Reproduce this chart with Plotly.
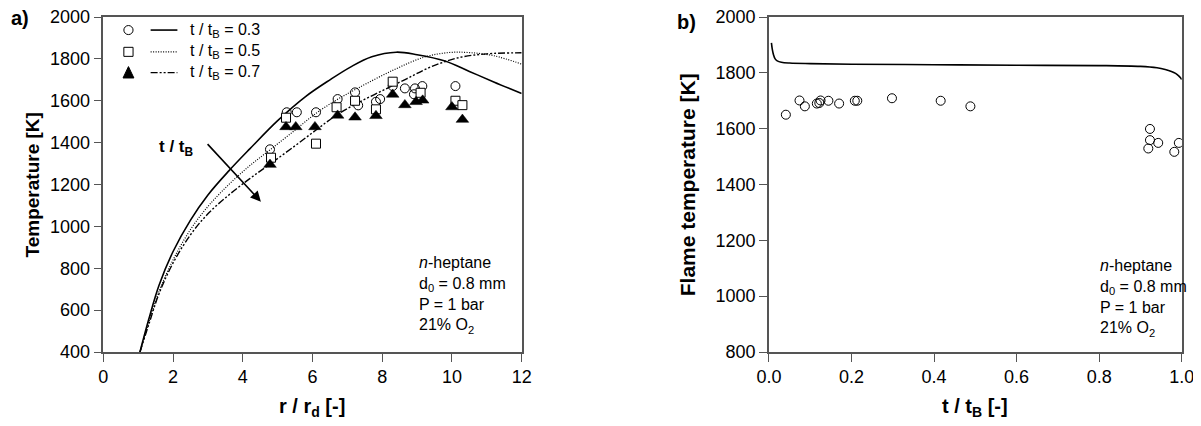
import plotly.graph_objects as go

# ---------------- data: panel a ----------------
r_03 = [1.05, 1.3, 1.6, 2.0, 2.5, 3.0, 3.6, 4.2, 5.0, 5.8, 6.5, 7.1, 7.7, 8.4, 9.0, 9.8, 10.5, 11.2, 12.0]
T_03 = [400, 555, 720, 880, 1030, 1150, 1265, 1370, 1505, 1620, 1700, 1762, 1810, 1832, 1820, 1790, 1740, 1690, 1635]
r_05 = [1.05, 1.3, 1.6, 2.0, 2.5, 3.0, 3.6, 4.2, 4.8, 5.5, 6.1, 6.7, 7.3, 8.3, 9.2, 9.9, 10.5, 11.2, 12.0]
T_05 = [400, 540, 690, 840, 985, 1095, 1200, 1290, 1368, 1460, 1540, 1605, 1660, 1745, 1808, 1830, 1830, 1815, 1775]
r_07 = [1.05, 1.3, 1.6, 2.0, 2.5, 3.0, 3.6, 4.2, 4.8, 5.5, 6.1, 6.7, 7.3, 8.0, 8.7, 9.4, 10.2, 11.0, 12.0]
T_07 = [400, 530, 680, 825, 960, 1060, 1150, 1228, 1300, 1385, 1460, 1533, 1590, 1648, 1705, 1762, 1806, 1824, 1829]

circ_r = [4.78, 5.26, 5.55, 6.1, 6.72, 7.22, 7.31, 7.82, 7.94, 8.3, 8.65, 8.94, 8.91, 9.15, 10.1]
circ_T = [1368, 1545, 1545, 1545, 1608, 1640, 1578, 1595, 1608, 1670, 1659, 1659, 1631, 1670, 1670]
sq_r = [4.81, 5.24, 6.1, 6.69, 7.22, 7.82, 8.3, 9.1, 10.1, 10.3]
sq_T = [1328, 1519, 1395, 1569, 1600, 1559, 1691, 1638, 1600, 1579]
tri_r = [4.78, 5.24, 5.52, 6.07, 6.72, 7.22, 7.82, 8.3, 8.65, 8.97, 9.16, 10.0, 10.3]
tri_T = [1295, 1475, 1475, 1475, 1530, 1521, 1528, 1630, 1580, 1595, 1602, 1570, 1510]

legend_labels = ["t / t<sub>B</sub> = 0.3", "t / t<sub>B</sub> = 0.5", "t / t<sub>B</sub> = 0.7"]

# ---------------- data: panel b ----------------
t_model = [0.006, 0.008, 0.011, 0.015, 0.02, 0.03, 0.05, 0.1, 0.2, 0.4, 0.6, 0.8, 0.9, 0.94, 0.96, 0.975, 0.985, 0.992, 0.997, 1.0]
T_model = [1907, 1885, 1865, 1850, 1843, 1838, 1835, 1833, 1831, 1829, 1827, 1826, 1823, 1818, 1812, 1805, 1798, 1790, 1782, 1776]
t_exp = [0.041, 0.074, 0.087, 0.116, 0.122, 0.125, 0.144, 0.17, 0.208, 0.214, 0.298, 0.416, 0.488,
         0.923, 0.923, 0.943, 0.919, 0.982, 0.993]
T_exp = [1650, 1701, 1680, 1690, 1692, 1701, 1700, 1690, 1700, 1700, 1709, 1700, 1680,
         1599, 1559, 1549, 1529, 1517, 1549]

FONT = "Liberation Sans, Arial, Helvetica, sans-serif"
AX = "#555555"
DASHDOT = "7px,2px,2px,2px,2px,2px"
DOTTED = "1px,1.5px"

fig = go.Figure()

# panel a lines
fig.add_trace(go.Scatter(x=r_03, y=T_03, mode="lines", line=dict(color="black", width=1.6, shape="spline"),
                         xaxis="x", yaxis="y", showlegend=False))
fig.add_trace(go.Scatter(x=r_05, y=T_05, mode="lines", line=dict(color="black", width=1.2, dash=DOTTED, shape="spline"),
                         xaxis="x", yaxis="y", showlegend=False))
fig.add_trace(go.Scatter(x=r_07, y=T_07, mode="lines",
                         line=dict(color="black", width=1.4, dash=DASHDOT, shape="spline"),
                         xaxis="x", yaxis="y", showlegend=False))
# panel a markers
fig.add_trace(go.Scatter(x=circ_r, y=circ_T, mode="markers",
                         marker=dict(symbol="circle-open", size=9, color="black", line=dict(width=1)),
                         xaxis="x", yaxis="y", showlegend=False))
fig.add_trace(go.Scatter(x=sq_r, y=sq_T, mode="markers",
                         marker=dict(symbol="square", size=9, color="white", line=dict(color="black", width=1)),
                         xaxis="x", yaxis="y", showlegend=False))
fig.add_trace(go.Scatter(x=tri_r, y=tri_T, mode="markers",
                         marker=dict(symbol="triangle-up", size=11, color="black", line=dict(color="black", width=0.5)),
                         xaxis="x", yaxis="y", showlegend=False))

# panel b
fig.add_trace(go.Scatter(x=t_model, y=T_model, mode="lines", line=dict(color="black", width=1.6, shape="spline"),
                         xaxis="x2", yaxis="y2", showlegend=False))
fig.add_trace(go.Scatter(x=t_exp, y=T_exp, mode="markers",
                         marker=dict(symbol="circle-open", size=9, color="black", line=dict(width=1)),
                         xaxis="x2", yaxis="y2", showlegend=False))

axis_common = dict(showgrid=False, zeroline=False, showline=True, linecolor=AX, linewidth=1.5,
                   mirror=True, ticks="outside", ticklen=8, tickwidth=1.2, tickcolor=AX, automargin=False,
                   ticklabeloverflow="allow",
                   tickfont=dict(family=FONT, size=18, color="black"))

fig.update_layout(
    width=1201, height=426,
    margin=dict(l=0, r=0, t=9, b=82, autoexpand=False),
    paper_bgcolor="white", plot_bgcolor="white",
    font=dict(family=FONT, color="black"),
    xaxis=dict(domain=[0.0794, 0.4277], range=[0, 12], tickvals=[0, 2, 4, 6, 8, 10, 12], anchor="y", **axis_common),
    yaxis=dict(domain=[0, 1], range=[400, 2000], tickvals=list(range(400, 2001, 200)), anchor="x", **axis_common),
    xaxis2=dict(domain=[0.6336, 0.9773], range=[0, 1], tickvals=[0, 0.2, 0.4, 0.6, 0.8, 1.0], tickformat=".1f",
                anchor="y2", **axis_common),
    yaxis2=dict(domain=[0, 1], range=[800, 2000], tickvals=list(range(800, 2001, 200)), anchor="x2", **axis_common),
)

C = dict(xanchor="center", yanchor="middle", showarrow=False)
ann = []
# axis titles
ann.append(dict(text="<b>Temperature [K]</b>", x=0.0208, y=0.5, xref="paper", yref="paper", textangle=-90,
                font=dict(size=19, family=FONT), **C))
ann.append(dict(text="<b>Flame temperature [K]</b>", x=0.566, y=0.5, xref="paper", yref="paper", textangle=-90,
                font=dict(size=21, family=FONT), **C))
ann.append(dict(text="<b>r / r<sub>d</sub> [-]</b>", x=0.253, y=-0.167, xref="paper", yref="paper",
                font=dict(size=20, family=FONT), **C))
ann.append(dict(text="<b>t / t<sub>B</sub> [-]</b>", x=0.805, y=-0.167, xref="paper", yref="paper",
                font=dict(size=20, family=FONT), **C))
# panel labels
ann.append(dict(text="<b>a)</b>", x=0.010, y=0.997, xref="paper", yref="paper",
                font=dict(size=20, family=FONT), **C))
ann.append(dict(text="<b>b)</b>", x=0.565, y=0.986, xref="paper", yref="paper",
                font=dict(size=20, family=FONT), **C))
# condition boxes
cond = "<i>n</i>-heptane<br>d<sub>0</sub> = 0.8 mm<br>P = 1 bar<br>21% O<sub>2</sub>"
ann.append(dict(text=cond, x=0.75, y=0.30, xref="x domain", yref="y domain", xanchor="left", yanchor="top",
                showarrow=False, align="left", font=dict(size=16, family=FONT)))
ann.append(dict(text=cond, x=0.797, y=0.29, xref="x2 domain", yref="y2 domain", xanchor="left", yanchor="top",
                showarrow=False, align="left", font=dict(size=16, family=FONT)))
# arrow
ann.append(dict(x=4.52, y=1118, ax=2.95, ay=1400, xref="x", yref="y", axref="x", ayref="y", text="",
                showarrow=True, arrowhead=2, arrowsize=1.3, arrowwidth=1.6, arrowcolor="black"))
ann.append(dict(text="<b>t / t<sub>B</sub></b>", x=2.1, y=1375, xref="x", yref="y",
                font=dict(size=17, family=FONT), **C))

# manual legend
rows = [0.961, 0.896, 0.834]
for lab, yy in zip(legend_labels, rows):
    ann.append(dict(text=lab, x=0.203, y=yy, xref="x domain", yref="y domain", xanchor="left", yanchor="middle",
                    showarrow=False, font=dict(size=16, family=FONT)))
shapes = []
dashes = ["solid", DOTTED, DASHDOT]
widths = [1.6, 1.2, 1.4]
for d, w, yy in zip(dashes, widths, rows):
    shapes.append(dict(type="line", xref="x domain", yref="y domain", x0=0.113, x1=0.177, y0=yy, y1=yy,
                       line=dict(color="black", width=w, dash=d)))
cx = 0.060
dx = 0.0110
dy = 0.0135
shapes.append(dict(type="circle", xref="x domain", yref="y domain", x0=cx - dx, x1=cx + dx,
                   y0=rows[0] - dy, y1=rows[0] + dy, line=dict(color="black", width=1)))
shapes.append(dict(type="rect", xref="x domain", yref="y domain", x0=cx - dx, x1=cx + dx,
                   y0=rows[1] - dy, y1=rows[1] + dy, line=dict(color="black", width=1)))
ty = rows[2]
shapes.append(dict(type="path", xref="x domain", yref="y domain",
                   path=f"M {cx - 0.013} {ty - 0.016} L {cx + 0.013} {ty - 0.016} L {cx} {ty + 0.018} Z",
                   fillcolor="black", line=dict(color="black", width=1)))

fig.update_layout(annotations=ann, shapes=shapes)
fig.write_html("out.html")
